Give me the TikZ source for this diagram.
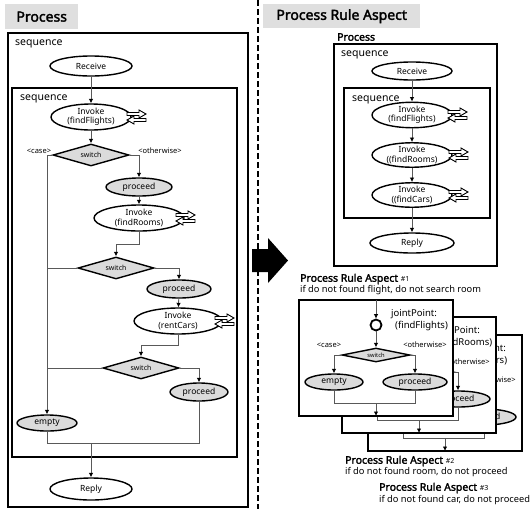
\documentclass[tikz,border=0pt]{standalone}
\usepackage{fontspec}
\setmainfont{Noto Sans}[AutoFakeBold=2.2]
\usetikzlibrary{shapes.geometric,arrows.meta,calc}
\newcommand{\fs}[1]{\fontsize{#1}{#1}\selectfont}
\newcommand{\svcicon}[2]{%
  \begin{scope}[shift={(#1,#2)}]
    \filldraw[fill=white,draw=black,line width=0.9pt] (0,2.5) -- (12,2.5) -- (12,0) -- (19,4) -- (12,8) -- (12,5.5) -- (0,5.5) -- cycle;
    \filldraw[fill=white,draw=black,line width=0.9pt] (19,8.5) -- (7,8.5) -- (7,6) -- (0,10) -- (7,14) -- (7,11.5) -- (19,11.5) -- cycle;
  \end{scope}}
\begin{document}
\begin{tikzpicture}[x=1pt,y=-1pt,
  box/.style={draw,line width=1.8pt},
  ell/.style={ellipse,draw,line width=1.4pt,fill=white,inner sep=0pt,align=center,font=\fontsize{8.5}{9.5}\selectfont},
  gell/.style={ell,fill=gray!28},
  sw/.style={diamond,draw,line width=1.4pt,fill=gray!28,inner sep=0pt,aspect=3.5,font=\fs{7}},
  flow/.style={draw=black!65,line width=0.8pt,-{Latex[length=4.5pt,width=4.5pt,color=black]}},
  ln/.style={draw=black!65,line width=0.8pt},
  lbl/.style={font=\fs{7.5},inner sep=0pt},
  seq/.style={font=\fs{10.5},inner sep=0pt,anchor=west},
  titlebox/.style={fill=gray!25,inner sep=0pt,font=\bfseries\fs{14},anchor=north west},
  txt/.style={inner sep=0pt,anchor=west}
]
\useasboundingbox (0,0) rectangle (532,509);

% ================= LEFT PANEL =================
\node[titlebox,minimum width=73,minimum height=25] (t1) at (5,4) {Process};
\draw[box] (8,33) rectangle (248,507);
\node[seq] (s1) at (15,44) {sequence};
\draw[box,line width=2pt] (12,88) rectangle (237,457);
\node[seq] (s2) at (20,99) {sequence};

\node[ell,minimum width=82,minimum height=20] (recv) at (91,66) {Receive};
\node[ell,minimum width=80,minimum height=26] (inv1) at (91,117) {Invoke\\(findFlights)};
\svcicon{127}{110}
\node[sw,minimum width=76,minimum height=22] (sw1) at (91,155) {switch};
\node[lbl] (c1) at (39,151) {<case>};
\node[lbl] (o1) at (160,151) {<otherwise>};
\node[gell,minimum width=66,minimum height=18] (pr1) at (139,187) {proceed};
\node[ell,minimum width=90,minimum height=26] (inv2) at (139,218) {Invoke\\(findRooms)};
\svcicon{176}{211}
\node[sw,minimum width=76,minimum height=22] (sw2) at (116,268) {switch};
\node[gell,minimum width=64,minimum height=18] (pr2) at (179,289) {proceed};
\node[ell,minimum width=88,minimum height=26] (inv3) at (178,321) {Invoke\\(rentCars)};
\svcicon{215}{314}
\node[sw,minimum width=76,minimum height=22] (sw3) at (141,368) {switch};
\node[gell,minimum width=58,minimum height=18] (pr3) at (199,392) {proceed};
\node[gell,minimum width=60,minimum height=16] (empty) at (47,423) {empty};
\node[ell,minimum width=82,minimum height=22] (reply) at (91,489) {Reply};
\coordinate (jn) at (91,443);

\draw[flow] (recv) -- (inv1);
\draw[flow] (inv1) -- (sw1);
\draw[flow] (sw1.west) -| (empty.north);
\draw[ln] (sw2.west) -- (sw2.west -| empty.north);
\draw[ln] (sw3.west) -- (sw3.west -| empty.north);
\draw[flow] (sw1.east) -| (pr1.north);
\draw[flow] (pr1) -- (inv2);
\draw[flow] (inv2.south) -- ++(0,13) -| (sw2.north);
\draw[flow] (sw2.east) -| (pr2.north);
\draw[flow] (pr2) -- (inv3);
\draw[flow] (inv3.south) -- ++(0,11) -| (sw3.north);
\draw[flow] (sw3.east) -| (pr3.north);
\draw[ln] (empty.south) |- (jn);
\draw[ln] (pr3.south) |- (jn);
\draw[flow] (jn) -- (reply);

% ================= SEPARATOR & ARROW =================
\draw[line width=2pt,dash pattern=on 6pt off 3pt] (258,0) -- (258,509);
\fill[black] (252,249) -- (268,249) -- (268,238) -- (288,260.5) -- (268,283) -- (268,272) -- (252,272) -- cycle;

% ================= RIGHT PANEL =================
\node[titlebox,minimum width=157,minimum height=24] (t2) at (263,4) {Process Rule Aspect};
\node[txt,font=\bfseries\fs{10.5}] (rp) at (337,37) {Process};
\draw[box] (334,44) rectangle (497,266);
\node[seq] (s3) at (341,55) {sequence};
\draw[box] (344,88) rectangle (490,218);
\node[seq] (s4) at (352,100) {sequence};

\node[ell,minimum width=80,minimum height=18] (rrecv) at (412,71) {Receive};
\node[ell,minimum width=80,minimum height=24] (rinv1) at (412,115) {Invoke\\(findFlights)};
\svcicon{448}{108}
\node[ell,minimum width=80,minimum height=22] (rinv2) at (412,155) {Invoke\\((findRooms)};
\svcicon{449}{148}
\node[ell,minimum width=80,minimum height=24] (rinv3) at (412,195) {Invoke\\((findCars)};
\svcicon{449}{188}
\node[ell,minimum width=84,minimum height=20] (rreply) at (412,243) {Reply};
\draw[flow] (rrecv) -- (rinv1);
\draw[flow] (rinv1) -- (rinv2);
\draw[flow] (rinv2) -- (rinv3);
\draw[flow] (rinv3) -- (rreply);

% ================= ASPECT BOXES =================
\foreach \dx/\dy/\pfx/\jp in {69/35/a3-/(findCars),43/17/a2-/(findRooms),0/0/a1-/(findFlights)}{
  \begin{scope}[shift={(299+\dx,300+\dy)},name prefix=\pfx]
    \filldraw[fill=white,draw=black,line width=1.8pt] (0,0) rectangle (154,116);
    \coordinate (top) at (77,0);
    \coordinate (bot) at (77,116);
    \coordinate (jn) at (77,103);
    \node[circle,draw,line width=1.8pt,minimum size=11,inner sep=0pt] (jp) at (77,25) {};
    \node[txt,font=\fs{9.5}] (jpt1) at (92,14) {jointPoint:};
    \node[txt,font=\fs{9.5}] (jpt2) at (96,26) {\jp};
    \node[sw,minimum width=68,minimum height=14,font=\fs{5.8}] (sw) at (77,55) {switch};
    \node[lbl] (cs) at (30,45) {<case>};
    \node[lbl] (ot) at (126,45) {<otherwise>};
    \node[gell,minimum width=58,minimum height=16,font=\fs{8.5}] (em) at (35,82) {empty};
    \node[gell,minimum width=64,minimum height=16,font=\fs{8.5}] (pr) at (116,82) {proceed};
    \draw[flow] (top) -- (jp);
    \draw[flow] (jp) -- (sw);
    \draw[flow] (sw.west) -| (em.north);
    \draw[flow] (sw.east) -| (pr.north);
    \draw[ln] (em.south) |- (jn);
    \draw[ln] (pr.south) |- (jn);
    \draw[flow] (jn) -- (bot);
  \end{scope}
}

\node[txt,font=\bfseries\fs{10.5}] (h1) at (300,279) {Process Rule Aspect {\mdseries\fs{7}\#1}};
\node[txt,font=\fs{9.3}] (d1) at (300,290) {if do not found flight, do not search room};
\node[txt,font=\bfseries\fs{10.5}] (h2) at (345,461) {Process Rule Aspect {\mdseries\fs{7}\#2}};
\node[txt,font=\fs{9.3}] (d2) at (345,472) {if do not found room, do not proceed};
\node[txt,font=\bfseries\fs{10.5}] (h3) at (379,488) {Process Rule Aspect {\mdseries\fs{7}\#3}};
\node[txt,font=\fs{9.3}] (d3) at (379,500) {if do not found car, do not proceed};
\end{tikzpicture}
\end{document}
